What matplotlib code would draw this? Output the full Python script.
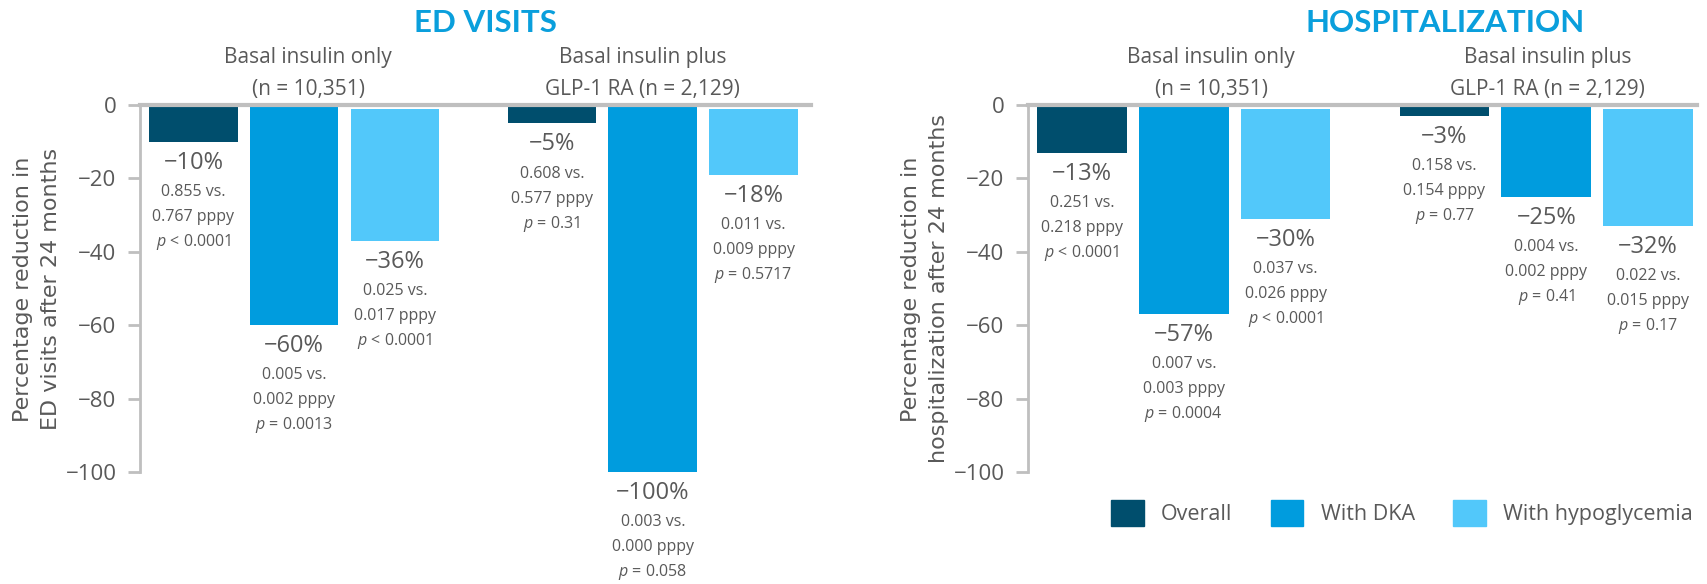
import matplotlib.pyplot as plt
from matplotlib.patches import Patch
from matplotlib.transforms import blended_transform_factory

plt.rcParams['font.family'] = ['Open Sans', 'DejaVu Sans']
plt.rcParams['mathtext.fontset'] = 'custom'
plt.rcParams['mathtext.it'] = 'Open Sans:italic'
plt.rcParams['mathtext.rm'] = 'Open Sans'

# data
series = ['Overall', 'With DKA', 'With hypoglycemia']
group_lines = [['Basal insulin only', '(n = 10,351)'],
               ['Basal insulin plus', 'GLP-1 RA (n = 2,129)']]

ed_pct = [[-10, -60, -36], [-5, -100, -18]]
ed_rates = [[('0.855', '0.767'), ('0.005', '0.002'), ('0.025', '0.017')],
            [('0.608', '0.577'), ('0.003', '0.000'), ('0.011', '0.009')]]
ed_p = [['< 0.0001', '= 0.0013', '< 0.0001'],
        ['= 0.31', '= 0.058', '= 0.5717']]

hosp_pct = [[-13, -57, -30], [-3, -25, -32]]
hosp_rates = [[('0.251', '0.218'), ('0.007', '0.003'), ('0.037', '0.026')],
              [('0.158', '0.154'), ('0.004', '0.002'), ('0.022', '0.015')]]
hosp_p = [['< 0.0001', '= 0.0004', '< 0.0001'],
          ['= 0.77', '= 0.41', '= 0.17']]

yticks = [0, -20, -40, -60, -80, -100]

# style
colors = ['#004E6D', '#009CDE', '#52C8FA']
title_color = '#0A9FDC'
text_color = '#595959'
axis_color = '#BFBFBF'
group_step = 3.56
bar_width = 0.88
hypo_start = -1.0   # light bars start just under the zero line

W, H = 1707, 584
fig = plt.figure(figsize=(W / 100, H / 100), dpi=100)


def draw_panel(ax, pct, rates, pvals, label_x, xmax):
    for gi in range(2):
        for bi in range(3):
            x = gi * group_step + bi
            start = hypo_start if bi == 2 else 0
            v = pct[gi][bi]
            ax.bar(x, v, width=bar_width, bottom=start, color=colors[bi], zorder=2)
            end = start + v
            ax.annotate('\u2212%d%%' % abs(v), (x, end), xytext=(0, -19.5),
                        textcoords='offset points', ha='center', va='baseline',
                        fontsize=17, color=text_color, annotation_clip=False)
            lines = [rates[gi][bi][0] + ' vs.', rates[gi][bi][1] + ' pppy',
                     '$p$ ' + pvals[gi][bi]]
            for li, s in enumerate(lines):
                ax.annotate(s, (x, end), xytext=(0, -39 - 18 * li),
                            textcoords='offset points', ha='center', va='baseline',
                            fontsize=11.5, color=text_color, annotation_clip=False)

    trans = blended_transform_factory(ax.transData, ax.transAxes)
    for gi in range(2):
        for li, s in enumerate(group_lines[gi]):
            ax.annotate(s, (label_x[gi], 1), xycoords=trans,
                        xytext=(0, 30 - 22.5 * li), textcoords='offset points',
                        ha='center', va='baseline', fontsize=15, color=text_color,
                        annotation_clip=False)

    ax.set_xlim(-0.53, xmax)
    ax.set_ylim(-100, 0)
    ax.set_xticks([])
    ax.set_yticks(yticks)
    ax.set_yticklabels(['0' if t == 0 else '\u2212%d' % abs(t) for t in yticks])
    for side in ['top', 'right', 'bottom']:
        ax.spines[side].set_visible(False)
    ax.spines['left'].set_color(axis_color)
    ax.spines['left'].set_linewidth(2)
    ax.axhline(0, color=axis_color, lw=3, zorder=3, clip_on=False)
    ax.tick_params(axis='y', length=9, width=2, color=axis_color, pad=8,
                   labelsize=16, labelcolor=text_color)


ax_ed = fig.add_axes([140 / W, 1 - 472 / H, (811 - 140) / W, 367 / H])
draw_panel(ax_ed, ed_pct, ed_rates, ed_p, [1.14, 4.46], 6.13)

ax_h = fig.add_axes([1028 / W, 1 - 472 / H, (1697 - 1028) / W, 367 / H])
draw_panel(ax_h, hosp_pct, hosp_rates, hosp_p, [1.27, 4.57], 6.04)

fig.text(485 / W, 1 - 32 / H, 'ED VISITS', ha='center', va='baseline',
         fontsize=22.5, fontweight='bold', color=title_color, family='Lato')
fig.text(1445 / W, 1 - 32 / H, 'HOSPITALIZATION', ha='center', va='baseline',
         fontsize=22.5, fontweight='bold', color=title_color, family='Lato')

fig.text(37 / W, 1 - 289 / H, 'Percentage reduction in\nED visits after 24 months',
         rotation=90, ha='center', va='center', fontsize=16, color=text_color,
         family='DejaVu Sans', linespacing=1.5)
fig.text(925 / W, 1 - 289 / H, 'Percentage reduction in\nhospitalization after 24 months',
         rotation=90, ha='center', va='center', fontsize=16, color=text_color,
         family='DejaVu Sans', linespacing=1.5)

handles = [Patch(color=c) for c in colors]
fig.legend(handles, series, ncol=3, loc='center', bbox_to_anchor=(1402 / W, 1 - 513 / H),
           frameon=False, fontsize=15.5, handlelength=1.5, handleheight=1.5,
           handletextpad=0.8, columnspacing=1.8, labelcolor=text_color)

fig.savefig('out.png', dpi=100)
